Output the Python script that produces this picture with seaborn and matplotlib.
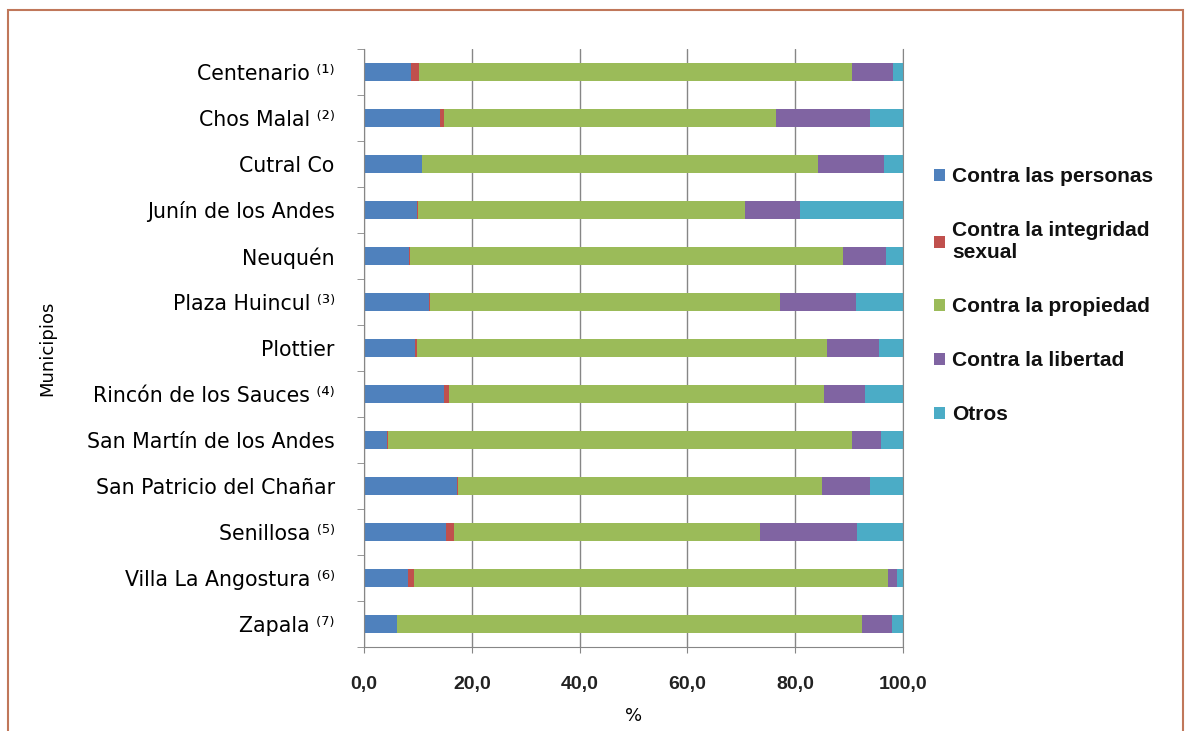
import numpy as np
import pandas as pd
import matplotlib
matplotlib.use('Agg')
import matplotlib.pyplot as plt
import seaborn as sns
from matplotlib.patches import Rectangle
from matplotlib.ticker import FuncFormatter

# Municipios (top to bottom) and share of each type of crime, %
municipios = [
    'Centenario ⁽¹⁾', 'Chos Malal ⁽²⁾', 'Cutral Co', 'Junín de los Andes',
    'Neuquén', 'Plaza Huincul ⁽³⁾', 'Plottier', 'Rincón de los Sauces ⁽⁴⁾',
    'San Martín de los Andes', 'San Patricio del Chañar', 'Senillosa ⁽⁵⁾',
    'Villa La Angostura ⁽⁶⁾', 'Zapala ⁽⁷⁾',
]
personas = [8.8, 14.1, 10.7, 9.9, 8.3, 12.1, 9.4, 14.8, 4.3, 17.3, 15.2, 8.2, 6.1]
integridad = [1.4, 0.8, 0.1, 0.1, 0.3, 0.1, 0.5, 0.9, 0.1, 0.2, 1.5, 1.0, 0.1]
propiedad = [80.3, 61.6, 73.4, 60.7, 80.3, 64.9, 76.0, 69.6, 86.1, 67.5, 56.7, 88.0, 86.2]
libertad = [7.7, 17.4, 12.2, 10.1, 8.0, 14.1, 9.6, 7.7, 5.5, 8.9, 18.1, 1.7, 5.6]
otros = [1.8, 6.1, 3.6, 19.2, 3.1, 8.8, 4.5, 7.0, 4.0, 6.1, 8.5, 1.1, 2.0]

series_names = ['Contra las personas', 'Contra la integridad\nsexual',
                'Contra la propiedad', 'Contra la libertad', 'Otros']
colors = ['#4F81BD', '#C0504D', '#9BBB59', '#8064A2', '#4BACC6']
x_ticks = [0, 20, 40, 60, 80, 100]

sns.set_style('white')
plt.rcParams['font.family'] = ['DejaVu Sans']
plt.rcParams['text.color'] = 'black'
plt.rcParams['axes.labelcolor'] = 'black'
plt.rcParams['xtick.labelcolor'] = '#222222'
plt.rcParams['ytick.labelcolor'] = 'black'

df = pd.DataFrame({
    series_names[0]: personas,
    series_names[1]: integridad,
    series_names[2]: propiedad,
    series_names[3]: libertad,
    series_names[4]: otros,
}, index=municipios)
cum = df.cumsum(axis=1)

fig = plt.figure(figsize=(11.91, 7.31), dpi=100)
ax = fig.add_axes([0.3056, 0.115, 0.4526, 0.818])

# stacked bars: draw cumulative totals from the last series back to the first
for name, col in reversed(list(zip(series_names, colors))):
    sns.barplot(x=cum[name].values, y=municipios, orient='h', color=col,
                width=0.4, errorbar=None, label=name, ax=ax,
                linewidth=0, saturation=1)

if ax.get_legend() is not None:
    ax.get_legend().remove()

ax.set_xlim(0, 100)
ax.set_xticks(x_ticks)
ax.xaxis.set_major_formatter(FuncFormatter(lambda v, p: f'{v:.1f}'.replace('.', ',')))
ax.grid(axis='x', color='#868686', linewidth=1)
ax.set_axisbelow(True)

for s in ['left', 'bottom', 'right']:
    ax.spines[s].set_color('#868686')
ax.spines['top'].set_visible(False)

ax.set_yticks(np.arange(-0.5, len(municipios), 1), minor=True)
ax.tick_params(axis='y', which='major', length=0, pad=21, labelsize=14.8)
ax.tick_params(axis='y', which='minor', left=True, length=5, color='#868686')
ax.tick_params(axis='x', which='major', bottom=True, length=4, color='#868686', pad=17)
for lbl in ax.get_xticklabels():
    lbl.set_fontfamily('Liberation Sans')
    lbl.set_fontweight('bold')
    lbl.set_fontsize(14)

ax.set_xlabel('%', fontsize=13, labelpad=10)
ax.set_ylabel('Municipios', fontsize=13, labelpad=0)
ax.yaxis.set_label_coords(-0.57, 0.5)

handles, labels = ax.get_legend_handles_labels()
leg = fig.legend(handles[::-1], labels[::-1], loc='upper left',
                 bbox_to_anchor=(0.784, 0.771), frameon=False,
                 prop={'family': 'Liberation Sans', 'weight': 'bold', 'size': 15},
                 handlelength=0.55, handleheight=0.55, handletextpad=0.35,
                 labelspacing=1.68, borderpad=0, borderaxespad=0)
for t in leg.get_texts():
    t.set_color('#111111')

# outer frame
fig.patches.append(Rectangle((0.0067, -0.02), 0.9866, 1.0063, transform=fig.transFigure,
                             fill=False, edgecolor='#C0775A', linewidth=1.5))

fig.savefig('out.png', dpi=100)
